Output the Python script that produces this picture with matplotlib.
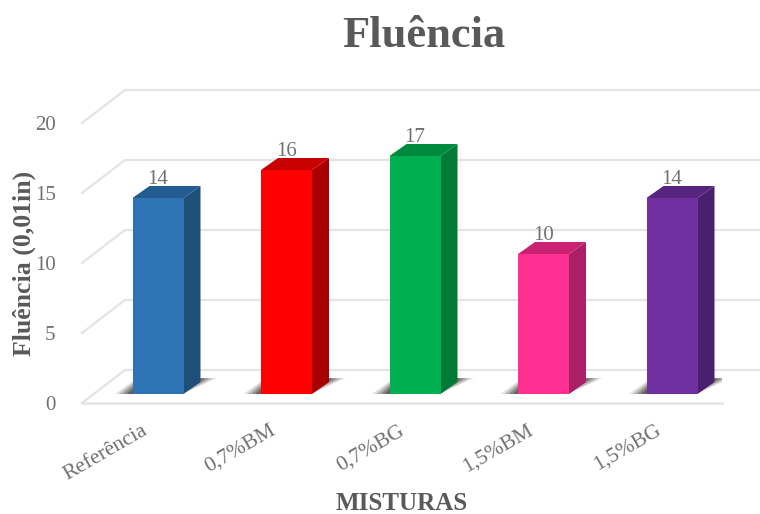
import matplotlib
matplotlib.use('Agg')
import matplotlib.pyplot as plt

# Dados do gráfico
misturas = ['Referência', '0,7%BM', '0,7%BG', '1,5%BM', '1,5%BG']
fluencia = [14, 16, 17, 10, 14]
cores_frente = ['#2e74b5', '#ff0000', '#00b050', '#ff2f92', '#7030a0']
cores_lado = ['#1f4e79', '#a80000', '#007a37', '#ab1f66', '#4a1f6e']
cores_topo = ['#235c91', '#c80000', '#008a3e', '#c92273', '#57257f']
ticks_y = [0, 5, 10, 15, 20]

W, H = 760, 514
CINZA = '#595959'
CINZA_CLARO = '#707070'
GRADE = '#e4e4e4'

plt.rcParams['font.family'] = ['Liberation Serif', 'DejaVu Serif']

fig = plt.figure(figsize=(W / 100, H / 100), dpi=100)
# eixo no plano frontal do piso
ax = fig.add_axes([82 / W, 1 - 403 / H, 640 / W, 280 / H])
px_x = 128.5  # pixels por categoria
px_y = 14.0   # pixels por unidade
ax.set_xlim(-76 / px_x, 564 / px_x)
ax.set_ylim(0, 20)
ax.patch.set_visible(False)

# profundidade 3D em unidades dos eixos
prof_x = 43 / px_x
prof_y = 33 / px_y
x0, x1 = ax.get_xlim()

# grade: parede esquerda e parede de fundo
for v in ticks_y:
    ax.plot([x0, x0 + prof_x, x1 + 45 / px_x], [v, v + prof_y, v + prof_y],
            color=GRADE, lw=1.6, clip_on=False, zorder=1)
ax.plot([x0, x1], [0, 0], color=GRADE, lw=1.8, clip_on=False, zorder=1)

largura = 51 / px_x
dx = 17 / px_x
dy = 12 / px_y
base = 9 / px_y

for i, v in enumerate(fluencia):
    e = i - largura / 2
    d = i + largura / 2
    # sombra no piso, em camadas para esmaecer nas pontas
    for k, alfa in zip([1.0, 0.92, 0.84, 0.76], [0.15, 0.25, 0.35, 0.45]):
        sx = [(p - 8) * k + 8 for p in (-43, -25, 59, 25)]
        sy = [0, 13, 16, 0]
        ax.fill([i + p / px_x for p in sx], [base + p / px_y for p in sy],
                color='#3b3530', alpha=alfa, lw=0, zorder=2)
    ax.bar(i, v, largura, bottom=base, color=cores_frente[i], zorder=4)
    topo = base + v
    ax.fill([d, d + dx, d + dx, d], [base, base + dy, topo + dy, topo],
            color=cores_lado[i], lw=0, zorder=3)
    ax.fill([e, e + dx, d + dx, d], [topo, topo + dy, topo + dy, topo],
            color=cores_topo[i], lw=0, zorder=3)
    ax.text(i, topo + 1.33, str(v), ha='center', va='center', fontsize=15,
            color=CINZA_CLARO, zorder=5)

for s in ax.spines.values():
    s.set_visible(False)

ax.set_yticks(ticks_y)
ax.set_xticks([i - 17 / px_x for i in range(len(misturas))])
ax.set_xticklabels(misturas, rotation=30, ha='right', rotation_mode='anchor')
ax.tick_params(axis='both', length=0, labelsize=15.5, labelcolor=CINZA_CLARO)
ax.tick_params(axis='y', labelsize=15, pad=19)
ax.tick_params(axis='x', pad=13)

fig.text(424 / W, 1 - 36 / H, 'Fluência', ha='center', va='center',
         fontsize=32, fontweight='bold', color=CINZA)
fig.text(402 / W, 1 - 503 / H, 'MISTURAS', ha='center', va='center',
         fontsize=18, fontweight='bold', color=CINZA)
fig.text(24 / W, 1 - 263 / H, 'Fluência (0,01in)', rotation=90, ha='center',
         va='center', fontsize=18.5, fontweight='bold', color=CINZA)

fig.savefig('out.png', dpi=100)
